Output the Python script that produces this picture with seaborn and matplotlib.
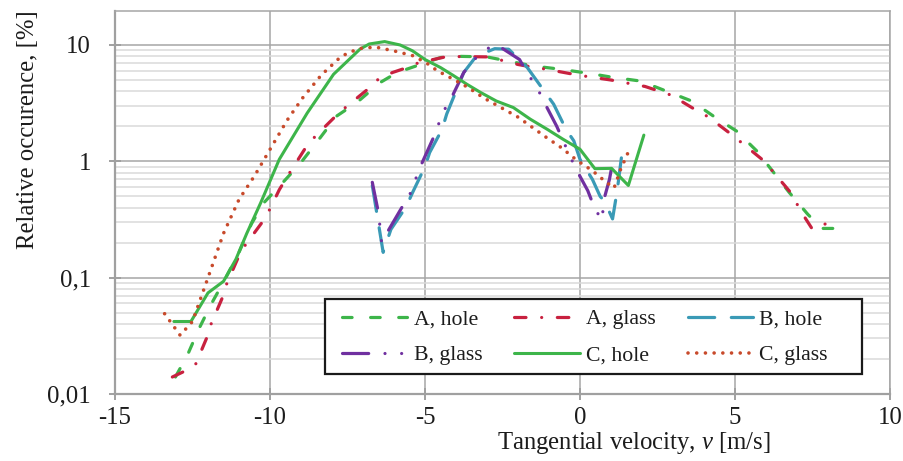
import matplotlib
matplotlib.use("Agg")
import matplotlib.pyplot as plt
from matplotlib.patches import Rectangle
import pandas as pd
import seaborn as sns

# Tangential velocity [m/s] and relative occurrence [%] for each case
a_hole_v = [-13.05, -12.65, -12.3, -11.9, -11.45, -11.0, -10.6, -10.2, -9.7, -9.05, -8.5,
            -7.85, -7.2, -6.45, -5.9, -5.15, -4.5, -4.0, -3.0, -2.35, -1.5, -0.65, 0.3,
            1.0, 1.95, 2.8, 3.6, 4.35, 5.05, 5.7, 6.25, 6.75, 7.35, 7.8, 8.2]
a_hole_y = [0.014, 0.022, 0.036, 0.059, 0.097, 0.165, 0.29, 0.44, 0.61, 0.94, 1.45,
            2.45, 3.2, 4.75, 5.8, 6.8, 7.8, 8.0, 7.9, 7.3, 6.6, 6.2, 5.7,
            5.3, 4.9, 4.0, 3.3, 2.4, 1.82, 1.23, 0.8, 0.54, 0.35, 0.265, 0.265]

a_glass_v = [-13.15, -12.8, -12.4, -12.05, -11.9, -11.55, -11.4, -11.05, -10.8, -10.25,
             -10.0, -9.7, -9.35, -8.85, -8.55, -7.9, -7.55, -6.85, -6.5, -6.05, -5.65,
             -5.2, -4.3, -3.85, -2.95, -2.0, -1.6, -1.1, -0.2, 0.25, 1.0, 2.1, 2.95,
             3.7, 4.15, 4.85, 5.25, 5.95, 6.25, 6.9, 7.05, 7.5, 8.05]
a_glass_y = [0.014, 0.0155, 0.018, 0.03, 0.04, 0.066, 0.088, 0.144, 0.19, 0.3,
             0.39, 0.57, 0.81, 1.31, 1.63, 2.42, 2.93, 4.16, 5.1, 5.8, 6.3,
             7.05, 7.95, 7.95, 7.9, 6.8, 6.5, 6.2, 5.6, 5.35, 5.0, 4.4, 3.7,
             2.8, 2.4, 1.73, 1.42, 1.0, 0.8, 0.5, 0.4, 0.26, 0.3]

b_hole_v = [-6.7, -6.35, -6.1, -5.6, -5.4, -5.0, -4.85, -4.45, -4.3, -4.0, -3.75, -3.35,
            -2.75, -2.3, -1.7, -1.15, -0.85, -0.45, -0.2, 0.0, 0.4, 0.65, 0.8, 1.05,
            1.2, 1.35]
b_hole_y = [0.62, 0.165, 0.26, 0.41, 0.54, 0.9, 1.19, 1.88, 2.55, 4.0, 5.8, 8.0,
            9.3, 9.2, 6.4, 4.0, 3.1, 1.88, 1.5, 1.04, 0.7, 0.5, 0.45, 0.32,
            0.56, 1.15]

b_glass_v = [-6.7, -6.5, -6.4, -6.2, -5.75, -5.5, -5.15, -4.75, -4.4, -4.15, -3.75,
             -3.45, -3.1, -2.7, -1.95, -1.7, -1.4, -1.2, -0.75, -0.35, -0.15, 0.25,
             0.45, 0.7, 0.8, 0.95, 1.05]
b_glass_y = [0.66, 0.36, 0.2, 0.25, 0.4, 0.51, 0.9, 1.55, 2.7, 3.5, 5.8,
             7.3, 9.0, 10.1, 7.5, 5.7, 4.4, 3.4, 2.0, 1.15, 0.88, 0.56,
             0.41, 0.31, 0.5, 0.7, 0.97]

c_hole_v = [-13.1, -12.55, -12.0, -11.5, -11.1, -10.75, -10.3, -9.7, -8.8, -7.95, -7.1,
            -6.8, -6.3, -5.8, -5.4, -5.0, -4.5, -4.1, -3.65, -3.2, -2.7, -2.15, -1.6,
            -1.05, -0.55, 0.0, 0.48, 1.02, 1.56, 2.06]
c_hole_y = [0.042, 0.042, 0.074, 0.093, 0.144, 0.24, 0.44, 1.04, 2.6, 5.6, 9.2,
            10.2, 10.7, 10.0, 8.9, 7.5, 6.4, 5.5, 4.6, 3.9, 3.3, 2.9, 2.3,
            1.88, 1.55, 1.27, 0.865, 0.87, 0.62, 1.68]

c_glass_v = [-13.4, -12.9, -12.5, -12.0, -11.5, -11.0, -10.5, -10.05, -9.45, -8.95, -8.35,
             -7.7, -7.15, -6.6, -6.0, -5.4, -4.95, -4.6, -4.1, -3.6, -3.1, -2.55, -2.0,
             -1.55, -1.05, -0.6, -0.1, 0.4, 0.85, 1.1, 1.3, 1.55]
c_glass_y = [0.049, 0.032, 0.042, 0.10, 0.24, 0.47, 0.75, 1.2, 2.25, 3.5, 5.5,
             8.0, 9.3, 9.6, 8.9, 8.1, 7.0, 6.0, 5.1, 4.3, 3.5, 2.9, 2.4,
             1.97, 1.58, 1.31, 1.02, 0.83, 0.66, 0.59, 0.84, 1.19]

series_names = ["A, hole", "A, glass", "B, hole", "B, glass", "C, hole", "C, glass"]
x_ticks = [-15, -10, -5, 0, 5, 10]
x_tick_labels = ["-15", "-10", "-5", "0", "5", "10"]
y_ticks = [0.01, 0.1, 1, 10]
y_tick_labels = ["0,01", "0,1", "1", "10"]

sns.set_theme(style="white")
plt.rcParams["font.family"] = ["Liberation Serif", "DejaVu Serif"]
plt.rcParams["mathtext.fontset"] = "custom"
plt.rcParams["mathtext.rm"] = "Liberation Serif"
plt.rcParams["mathtext.it"] = "Liberation Serif:italic"
TXT = "#1c1c1c"
FS_LEG = 15.7
FS_AX = 17.8

W, H = 904, 461
fig = plt.figure(figsize=(W / 100, H / 100), dpi=100)
ax = fig.add_axes([115 / W, 1 - 394 / H, 775 / W, 383 / H])

green = "#3DB54A"
styles = [
    (a_hole_v, a_hole_y, green, (3.0, 5.8), 2.3),
    (a_glass_v, a_glass_y, "#C8213F", (3.6, 4.9, 0.01, 4.9), 2.3),
    (b_hole_v, b_hole_y, "#3A9AB6", (8.2, 5.2), 2.3),
    (b_glass_v, b_glass_y, "#7030A0", (8.2, 5.1, 0.01, 5.2, 0.01, 5.1), 2.3),
    (c_hole_v, c_hole_y, green, None, 2.2),
    (c_glass_v, c_glass_y, "#C84A2B", (0.01, 2.4), 2.6),
]

handles = []
for name, (vv, yy, col, dash, lw) in zip(series_names, styles):
    df = pd.DataFrame({"v": vv, "y": yy})
    sns.lineplot(data=df, x="v", y="y", ax=ax, color=col, lw=lw, label=name,
                 estimator=None, sort=False)
    line = ax.get_lines()[-1]
    if dash is not None:
        line.set_dashes(dash)
    line.set_dash_capstyle("round")
    line.set_solid_capstyle("round")
    line.set_solid_joinstyle("round")
    handles.append(line)

ax.set_yscale("log")
ax.set_xlim(-15, 10)
ax.set_ylim(0.01, 19.6)

ax.xaxis.set_major_locator(matplotlib.ticker.FixedLocator(x_ticks))
ax.set_xticklabels(x_tick_labels)
ax.yaxis.set_major_locator(matplotlib.ticker.FixedLocator(y_ticks))
ax.set_yticklabels(y_tick_labels)
ax.yaxis.set_minor_locator(matplotlib.ticker.LogLocator(base=10, subs=range(2, 10)))
ax.yaxis.set_minor_formatter(matplotlib.ticker.NullFormatter())

ax.grid(True, which="major", axis="both", color="#A6A6A6", lw=1.1)
ax.grid(True, which="minor", axis="y", color="#DADADA", lw=1.1)
ax.set_axisbelow(True)

for side in ["left", "bottom"]:
    ax.spines[side].set_color("#A0A0A0")
    ax.spines[side].set_linewidth(1.6)
for side in ["top", "right"]:
    ax.spines[side].set_color("#A6A6A6")
    ax.spines[side].set_linewidth(1.1)

ax.tick_params(axis="both", which="major", direction="inout", length=9, width=1.4,
               color="#A0A0A0", labelsize=FS_AX, labelcolor=TXT)
ax.tick_params(axis="y", which="major", pad=13, left=True)
ax.tick_params(axis="x", which="major", pad=5, bottom=True)
ax.tick_params(axis="y", which="minor", left=False)

ax.set_xlabel("")
ax.set_ylabel("")
fig.text(634 / W, 1 - 443 / H, "Tangential velocity, $v$ [m/s]", ha="center",
         va="center", fontsize=FS_AX, color=TXT)
fig.text(28 / W, 1 - 130 / H, "Relative occurence, [%]", ha="center", va="center",
         rotation=90, fontsize=FS_AX, color=TXT)

# legend box: white rectangle with a dark border, under the legend entries
box = Rectangle((325 / W, 1 - 374 / H), (862 - 325) / W, (374 - 299) / H,
                transform=fig.transFigure, facecolor="white", edgecolor="#1a1a1a",
                lw=1.6, zorder=4.5, clip_on=False)
ax.add_patch(box)

order = [0, 3, 1, 4, 2, 5]
leg = ax.legend([handles[i] for i in order], [series_names[i] for i in order],
                ncol=3, loc="upper left",
                bbox_to_anchor=(342 / W, 1 - 309 / H),
                bbox_transform=fig.transFigure,
                borderaxespad=0, frameon=False, handlelength=3.0, handletextpad=0.3,
                columnspacing=1.45, labelspacing=0.72, borderpad=0, fontsize=FS_LEG)
leg.set_zorder(5)
for t in leg.get_texts():
    t.set_color(TXT)

fig.savefig("out.png", dpi=100)
